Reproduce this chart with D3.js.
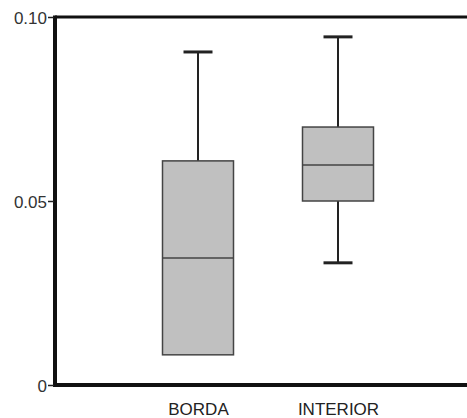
<!DOCTYPE html>
<html><head><meta charset="utf-8">
<script src="https://cdn.jsdelivr.net/npm/d3@7"></script>
<style>body{margin:0;background:#fff}svg{display:block}</style>
</head><body>
<script>
const categories = ["BORDA", "INTERIOR"];
const whiskerMin = [0.0082, 0.0332];
const q1 = [0.0082, 0.0500];
const median = [0.0345, 0.0598];
const q3 = [0.0609, 0.0701];
const whiskerMax = [0.0905, 0.0946];
const yTicks = [0, 0.05, 0.10];
const yTickLabels = ["0", "0.05", "0.10"];

const W = 467, H = 418;
const svg = d3.select("body").append("svg").attr("width", W).attr("height", H);
const y = d3.scaleLinear().domain([0, 0.10]).range([385, 17]);
const x = d3.scalePoint().domain(categories).range([128, 408]).padding(0.5);
const boxW = 71, capW = 29;
const font = "Arial, 'Liberation Sans', sans-serif";

const data = categories.map((c, i) => ({c, lo: whiskerMin[i], q1: q1[i], med: median[i], q3: q3[i], hi: whiskerMax[i]}));
const g = svg.append("g");
data.forEach(d => {
  const cx = x(d.c);
  g.append("line").attr("x1", cx).attr("x2", cx).attr("y1", y(d.hi)).attr("y2", y(d.q3)).attr("stroke", "#222").attr("stroke-width", 2);
  g.append("line").attr("x1", cx - capW/2).attr("x2", cx + capW/2).attr("y1", y(d.hi)).attr("y2", y(d.hi)).attr("stroke", "#222").attr("stroke-width", 3);
  if (d.lo < d.q1) {
    g.append("line").attr("x1", cx).attr("x2", cx).attr("y1", y(d.q1)).attr("y2", y(d.lo)).attr("stroke", "#222").attr("stroke-width", 2);
    g.append("line").attr("x1", cx - capW/2).attr("x2", cx + capW/2).attr("y1", y(d.lo)).attr("y2", y(d.lo)).attr("stroke", "#222").attr("stroke-width", 3);
  }
  g.append("rect").attr("x", cx - boxW/2).attr("width", boxW).attr("y", y(d.q3)).attr("height", y(d.q1) - y(d.q3))
    .attr("fill", "#c0c0c0").attr("stroke", "#444").attr("stroke-width", 1.5);
  g.append("line").attr("x1", cx - boxW/2).attr("x2", cx + boxW/2).attr("y1", y(d.med)).attr("y2", y(d.med)).attr("stroke", "#444").attr("stroke-width", 1.5);
});

// axes frame
svg.append("line").attr("x1", 55).attr("x2", W).attr("y1", y(0.10)).attr("y2", y(0.10)).attr("stroke", "#111").attr("stroke-width", 3);
svg.append("line").attr("x1", 55).attr("x2", W).attr("y1", y(0)).attr("y2", y(0)).attr("stroke", "#111").attr("stroke-width", 4);
svg.append("line").attr("x1", 55).attr("x2", 55).attr("y1", y(0.10) - 1.5).attr("y2", y(0) + 2).attr("stroke", "#111").attr("stroke-width", 4);

// y ticks
const yAxis = d3.axisLeft(y).tickValues(yTicks).tickSize(6).tickFormat((d, i) => yTickLabels[i]);
const ya = svg.append("g").attr("transform", "translate(54,0)").call(yAxis);
ya.select(".domain").remove();
ya.selectAll(".tick line").attr("stroke", "#222").attr("stroke-width", 1.5);
ya.selectAll(".tick text").attr("font-family", font).attr("font-size", 17).attr("fill", "#333").attr("x", -7).attr("dy", "0.36em");

// x labels
const xAxis = d3.axisBottom(x).tickSize(0).tickPadding(0);
const xa = svg.append("g").attr("transform", "translate(0,403)").call(xAxis);
xa.select(".domain").remove();
xa.selectAll(".tick text").attr("font-family", font).attr("font-size", 17).attr("fill", "#222").attr("dy", "0.71em").attr("textLength", null);
</script>
</body></html>
